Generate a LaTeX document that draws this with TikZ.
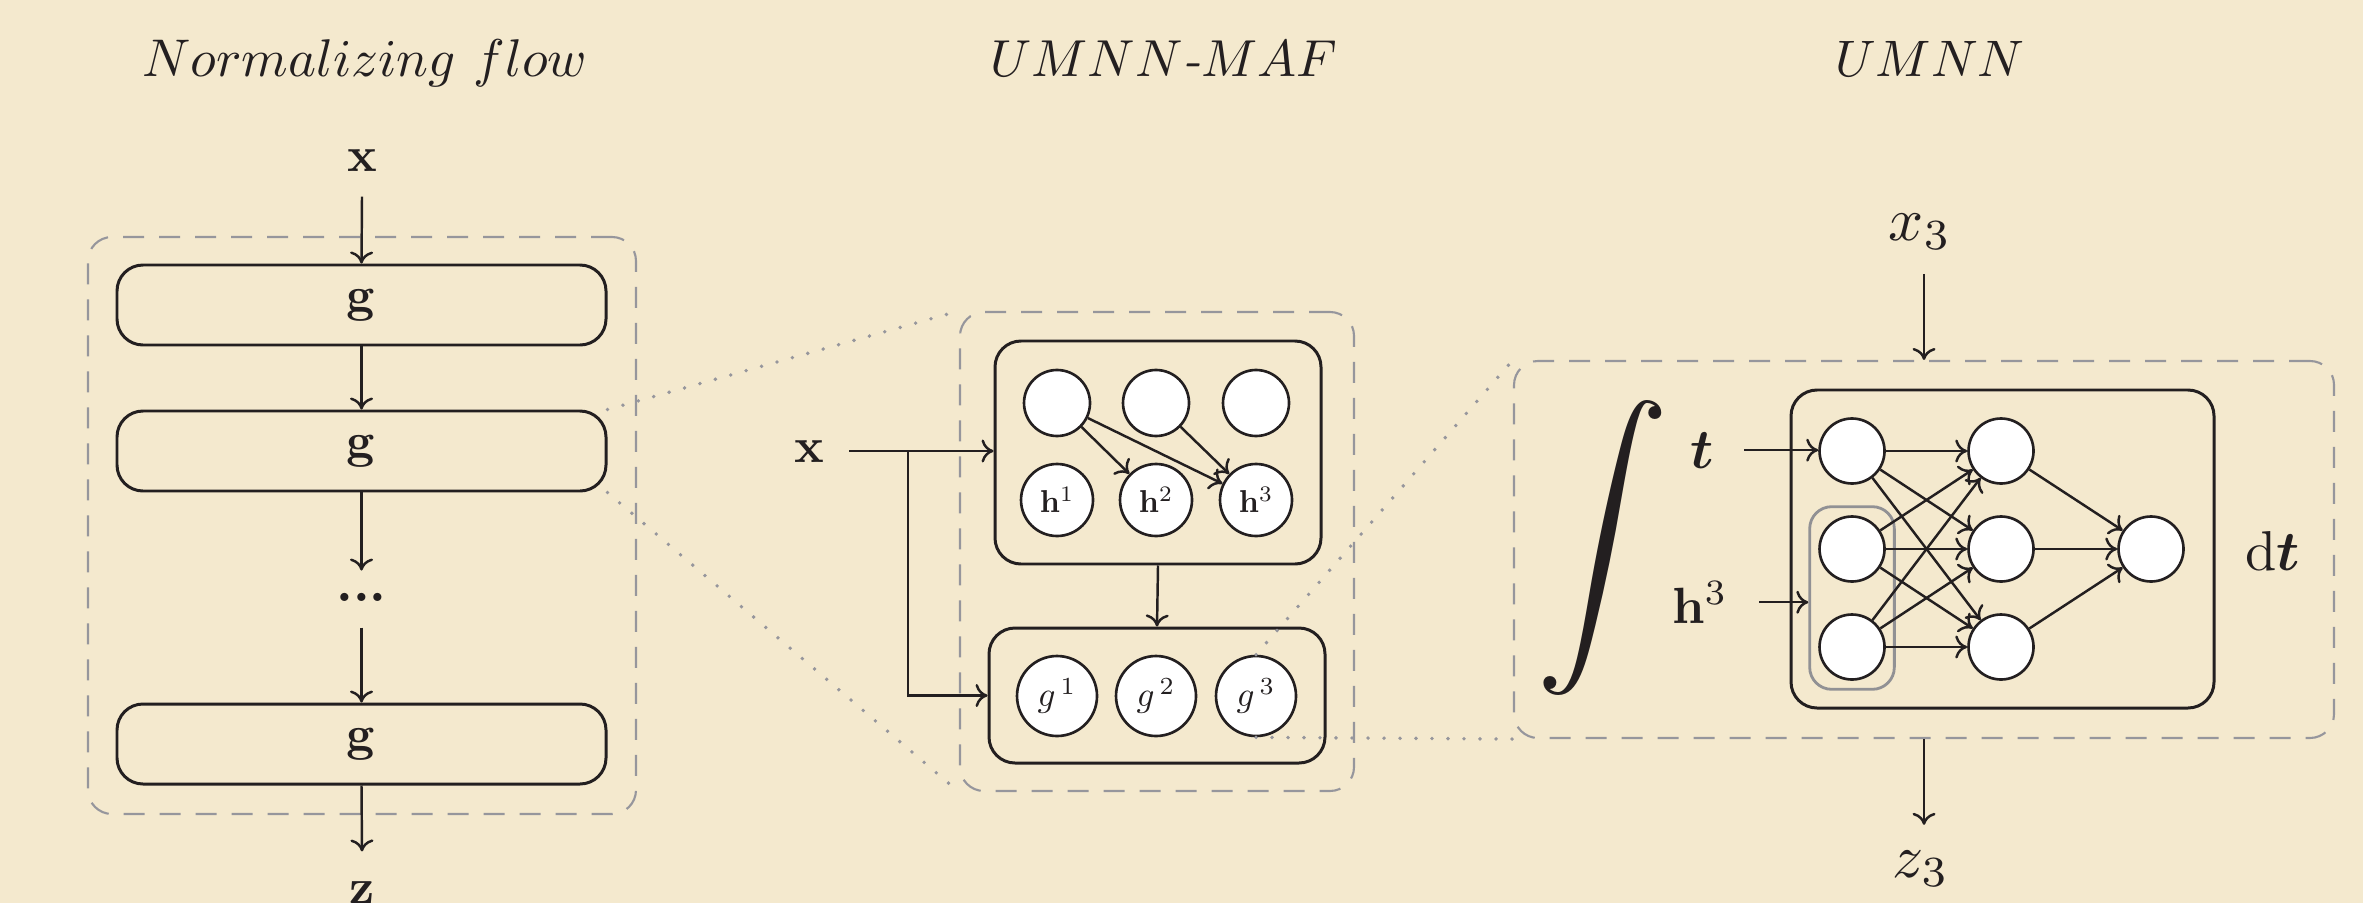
\documentclass[tikz,border=0pt]{standalone}
\usepackage{graphicx}
\usetikzlibrary{arrows.meta,fit,calc}
\definecolor{bg}{RGB}{244,233,206}
\definecolor{ink}{RGB}{35,31,32}
\definecolor{dashc}{RGB}{150,150,156}
\definecolor{greyc}{RGB}{145,145,148}
\newcommand{\scT}[1]{\scalebox{1.51}{#1}}
\newcommand{\scA}[1]{\scalebox{1.4}{#1}}
\newcommand{\scB}[1]{\scalebox{1.6}{#1}}
\newcommand{\scH}[1]{\scalebox{0.9}{#1}}
\tikzset{
  title/.style={anchor=base, inner sep=0pt, text=ink},
  lblA/.style={inner sep=0pt, text=ink},
  lblB/.style={inner sep=0pt, text=ink},
  gbox/.style={draw=ink, rounded corners=2.6mm, minimum width=48.9mm, minimum height=8mm, line width=0.85pt, text=ink},
  sbox/.style={draw=ink, rounded corners=2.6mm, line width=0.85pt, inner sep=0pt},
  dbox/.style={draw=dashc, dash pattern=on 2.1mm off 1.5mm, rounded corners=2.4mm, line width=0.6pt, inner sep=0pt},
  circE/.style={circle, draw=ink, fill=white, inner sep=0pt, line width=0.75pt, minimum size=6.6mm},
  circH/.style={circle, draw=ink, fill=white, inner sep=0pt, line width=0.75pt, minimum size=7.2mm, text=ink},
  circG/.style={circle, draw=ink, fill=white, inner sep=0pt, line width=0.75pt, minimum size=8mm, text=ink},
  neur/.style={circle, draw=ink, fill=white, inner sep=0pt, line width=0.75pt, minimum size=6.5mm},
  arr/.style={draw=ink, line width=0.7pt, -{Computer Modern Rightarrow[length=1.2mm,width=2.3mm]}},
  dotl/.style={draw=dashc, line width=1.1pt, line cap=round, dash pattern=on 0pt off 1.6mm},
}
\begin{document}
\begin{tikzpicture}[x=0.1mm, y=-0.1mm]
\fill[bg] (0,0) rectangle (2363,903);
\useasboundingbox (0,0) rectangle (2363,903);

% ---------- titles
\node[title] (T1) at (365,77) {\scT{$Normalizing\ flow$}};
\node[title] (T2) at (1164,77) {\scalebox{1.48}{$UMNN$\textit{-}$MAF$}};
\node[title] (T3) at (1930,77) {\scalebox{1.46}{$UMNN$}};

% ---------- left panel
\node[dbox, minimum width=54.8mm, minimum height=57.7mm] (F) at (362,525.5) {};
\node[lblA, anchor=base] (xin) at (362,172) {\scA{$\mathbf{x}$}};
\node[gbox] (g1) at (361.5,305) {\scA{$\mathbf{g}$}};
\node[gbox] (g2) at (361.5,451) {\scA{$\mathbf{g}$}};
\node[lblA] (dots) at (361.5,597.5) {\scalebox{1.49}{\textbf{.\kern0pt.\kern0pt.}}};
\node[gbox] (g3) at (361.5,744) {\scA{$\mathbf{g}$}};
\node[lblA, anchor=base] (zl) at (362,903) {\scA{$\mathbf{z}$}};

\draw[arr] ([yshift=-2.4mm]xin.south) -- (g1.north);
\draw[arr] (g1.south) -- (g2.north);
\draw[arr] (g2.south) -- ([yshift=2.7mm]dots.center);
\draw[arr] ([yshift=-3mm]dots.center) -- (g3.north);
\draw[arr] (g3.south) -- ([yshift=2.9mm]zl.north);

% ---------- middle panel
\node[dbox, minimum width=39.4mm, minimum height=47.9mm] (M) at (1157,551.5) {};
\node[sbox, minimum width=32.6mm, minimum height=22.3mm] (U) at (1158,452.5) {};
\node[sbox, minimum width=33.6mm, minimum height=13.5mm] (L) at (1157,695.5) {};
\node[circE] (c1) at (1057,403) {};
\node[circE] (c2) at (1156,403) {};
\node[circE] (c3) at (1256,403) {};
\node[circH] (h1) at (1057,500) {\scH{$\mathbf{h}^{1}$}};
\node[circH] (h2) at (1156,500) {\scH{$\mathbf{h}^{2}$}};
\node[circH] (h3) at (1256,500) {\scH{$\mathbf{h}^{3}$}};
\node[circG] (gg1) at (1057,696) {$g^{\,1}$};
\node[circG] (gg2) at (1156,696) {$g^{\,2}$};
\node[circG] (gg3) at (1256,696) {$g^{\,3}$};
\node[lblA, anchor=base] (xm) at (809,462) {\scA{$\mathbf{x}$}};
\coordinate (xs) at (849,451);
\coordinate (br) at (908,451);

\draw[arr] (xs) -- (xs -| U.west);
\draw[arr] (br) |- (L.west);
\draw[arr] (U.south) -- (L.north);
\draw[arr] (c1) -- (h2);
\draw[arr] (c1) -- (h3);
\draw[arr] (c2) -- (h3);

% ---------- right panel
\node[dbox, minimum width=82mm, minimum height=37.7mm] (R) at (1924,549.5) {};
\node[sbox, minimum width=42.3mm, minimum height=31.8mm] (N) at (2002.5,549) {};
\node[neur] (n11) at (1852,451) {};
\node[neur] (n12) at (1852,549) {};
\node[neur] (n13) at (1852,647) {};
\node[neur] (n21) at (2001,451) {};
\node[neur] (n22) at (2001,549) {};
\node[neur] (n23) at (2001,647) {};
\node[neur] (out) at (2151,549) {};
\node[draw=greyc, line width=0.8pt, rounded corners=2.2mm, inner sep=0.85mm, fit=(n12)(n13)] (G) {};
\node[inner sep=0pt, text=ink] (int) at (1603,548.5) {\resizebox*{!}{29.5mm}{$\displaystyle\int$}};
\node[lblB, anchor=base] (tl) at (1702,468) {\scB{\boldmath$t$}};
\node[lblB, anchor=base] (hl) at (1700,623) {\scalebox{1.45}{$\mathbf{h}^{3}$}};
\node[lblB, anchor=base] (dt) at (2273,570) {\scB{$\mathrm{d}$\boldmath$t$}};
\node[lblB, anchor=base] (x3) at (1920,240) {\scalebox{1.75}{$x_{3}$}};
\node[lblB, anchor=base] (z3) at (1921,877) {\scalebox{1.75}{$z_{3}$}};

\draw[arr] ([xshift=3mm]tl.east) -- (tl.east -| n11.west);
\draw[arr] ([xshift=3.1mm]hl.east) -- (hl.east -| G.west);
\draw[arr] ([yshift=-2.4mm]x3.south -| R.north) -- (R.north);
\draw[arr] (R.south) -- ([yshift=2.5mm]z3.north -| R.south);
\foreach \a in {n11,n12,n13}{
  \foreach \b in {n21,n22,n23}{
    \draw[arr] (\a) -- (\b);
  }
}
\foreach \a in {n21,n22,n23}{
  \draw[arr] (\a) -- (out);
}

% ---------- dotted zoom lines
\draw[dotl] (g2.north east) -- (M.north west);
\draw[dotl] (g2.south east) -- (M.south west);
\draw[dotl] (gg3.north) -- (R.north west);
\draw[dotl] (gg3.south) -- (R.south west);
\end{tikzpicture}
\end{document}
